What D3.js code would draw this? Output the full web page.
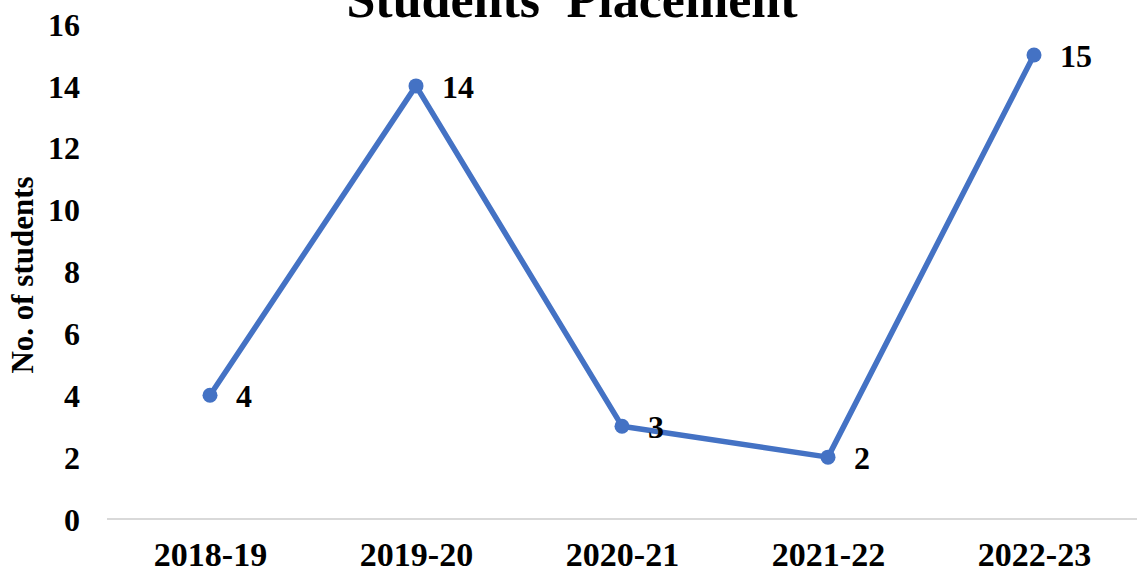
<!DOCTYPE html>
<html>
<head>
<meta charset="utf-8">
<script src="https://cdn.jsdelivr.net/npm/d3@7"></script>
<style>
  html, body { margin: 0; padding: 0; background: #fff; }
  svg { display: block; }
  text { font-family: "Liberation Serif", "Times New Roman", serif; font-weight: bold; fill: #000; }
</style>
</head>
<body>
<script>
const categories = ["2018-19", "2019-20", "2020-21", "2021-22", "2022-23"];
const values = [4, 14, 3, 2, 15];
const yTicks = [0, 2, 4, 6, 8, 10, 12, 14, 16];
const titleText = "Students\u2019 Placement";
const yTitle = "No. of students";

const W = 1137, H = 572;
const svg = d3.select("body").append("svg").attr("width", W).attr("height", H);

const x = d3.scalePoint().domain(categories).range([107, 1137]).padding(0.5);
const y = d3.scaleLinear().domain([0, 16]).range([519, 24]);

// title (top clipped as in reference)
svg.append("text").attr("x", 572).attr("y", 17).attr("text-anchor", "middle")
  .style("font-size", "52px").text(titleText);

// y axis labels
const yAxis = d3.axisLeft(y).tickValues(yTicks).tickSize(0).tickPadding(0);
const yg = svg.append("g").attr("transform", "translate(80,0)").call(yAxis);
yg.select(".domain").remove();
yg.selectAll("text").style("font-size", "32px").attr("dy", "0.35em")
  .style("font-family", '"Liberation Serif", serif').style("font-weight", "bold").attr("fill", "#000");

// x axis baseline
const xAxis = d3.axisBottom(x).tickSize(0).tickPadding(0);
const xg = svg.append("g").attr("transform", `translate(0,${y(0)})`).call(xAxis);
xg.select(".domain").attr("stroke", "#d9d9d9").attr("stroke-width", 2)
  .attr("d", `M107,0H1137`);
xg.selectAll("text").attr("y", 47).attr("dy", 0).style("font-size", "34px")
  .style("font-family", '"Liberation Serif", serif').style("font-weight", "bold").attr("fill", "#000");

// y title
svg.append("text").attr("transform", `translate(33,275) rotate(-90)`)
  .attr("text-anchor", "middle").style("font-size", "31px").text(yTitle);

// line
const line = d3.line().x((d, i) => x(categories[i])).y(d => y(d));
svg.append("path").datum(values).attr("d", line)
  .attr("fill", "none").attr("stroke", "#4472C4").attr("stroke-width", 5.5)
  .attr("stroke-linejoin", "round");

svg.selectAll("circle.pt").data(values).enter().append("circle")
  .attr("class", "pt").attr("cx", (d, i) => x(categories[i])).attr("cy", d => y(d))
  .attr("r", 7.5).attr("fill", "#4472C4");

svg.selectAll("text.lbl").data(values).enter().append("text")
  .attr("class", "lbl").attr("x", (d, i) => x(categories[i]) + 26).attr("y", d => y(d))
  .attr("dy", "0.37em").style("font-size", "32px").text(d => d);
</script>
</body>
</html>
